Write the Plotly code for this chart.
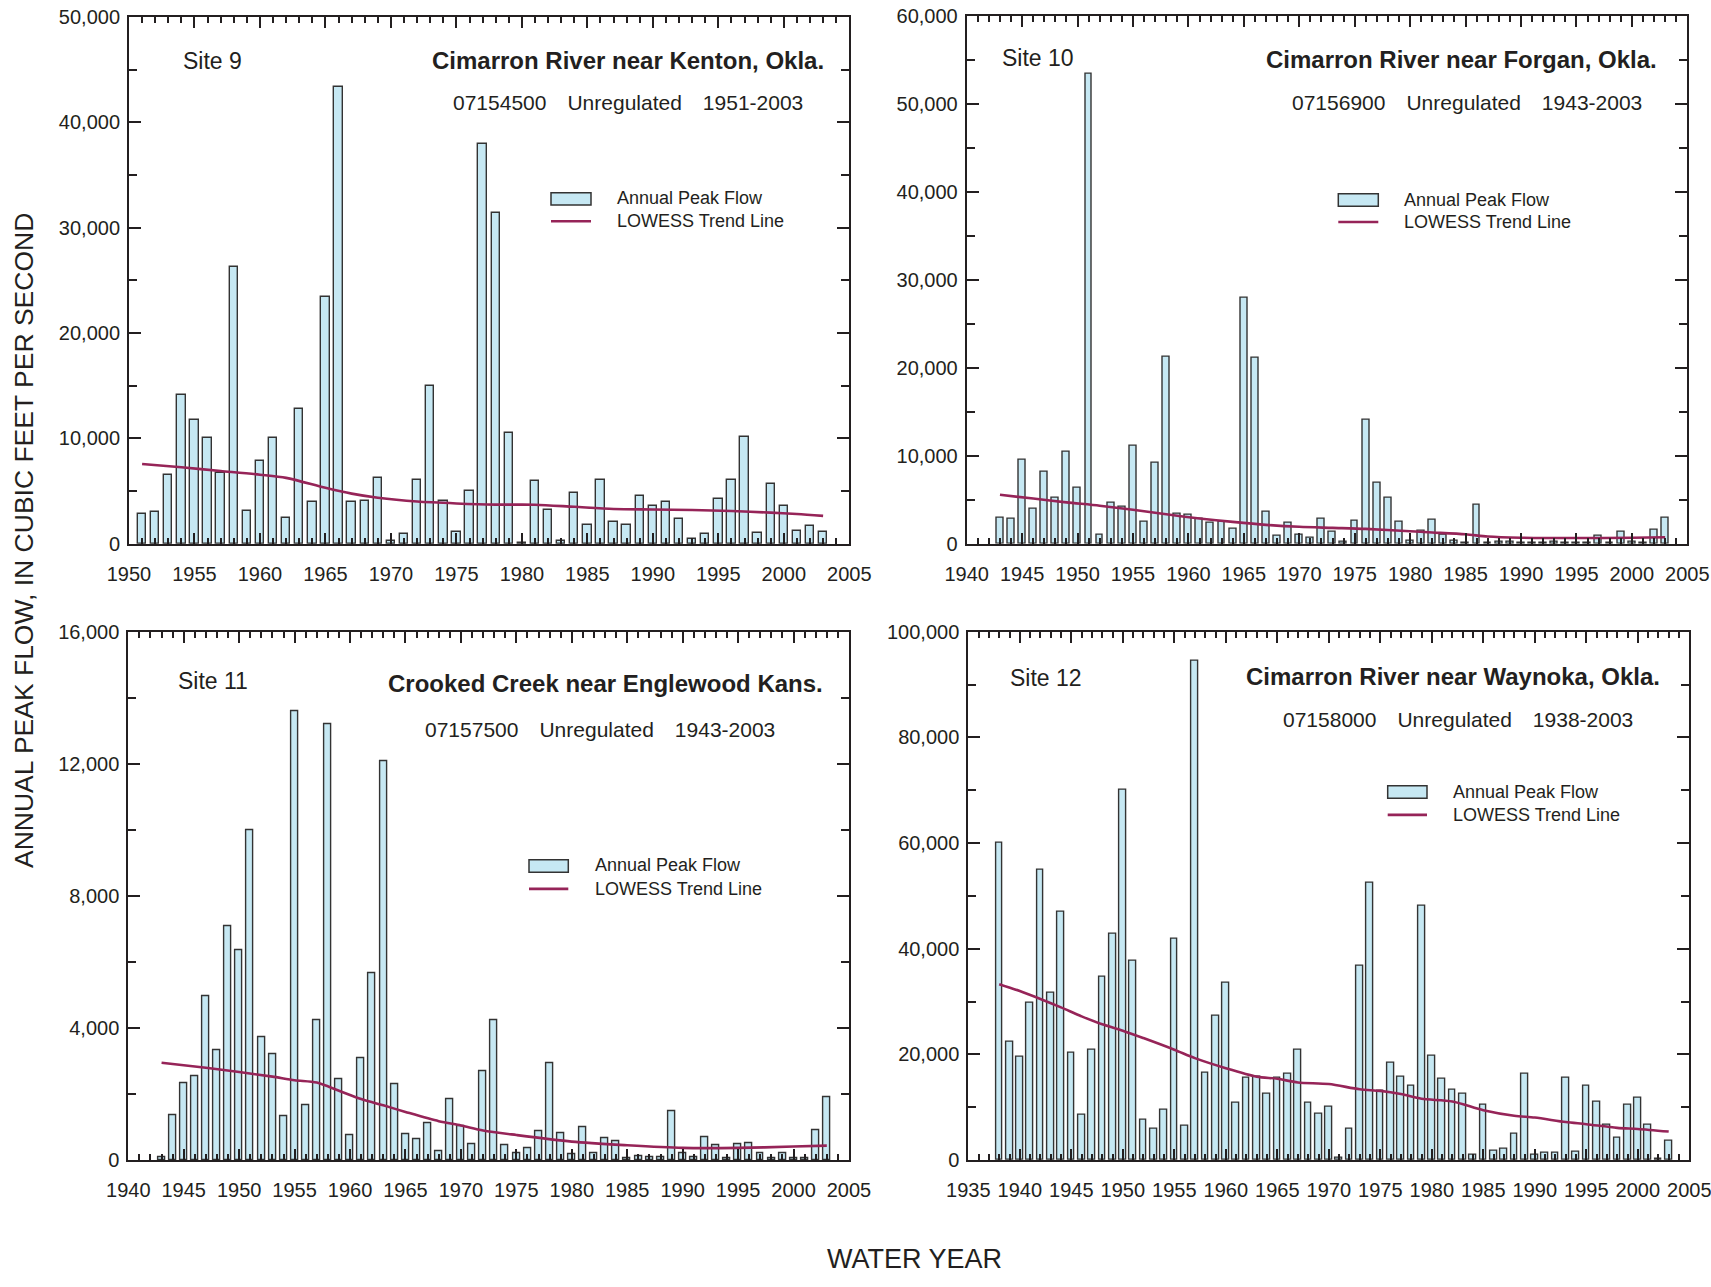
import plotly.graph_objects as go

W, H = 1711, 1287

# ---------------- Site 9: Cimarron River near Kenton, Okla. ----------------
years9 = list(range(1951, 2004))
peak9 = [2800, 3050, 6500, 14100, 11750, 10000, 6750, 26300, 3100, 7900,
         10000, 2450, 12750, 3950, 23400, 43400, 4000, 4050, 6200, 300,
         900, 6100, 15000, 4100, 1100, 5000, 37900, 31400, 10500, 100,
         5950, 3200, 300, 4850, 1800, 6050, 2050, 1800, 4550, 3550,
         3950, 2400, 450, 950, 4250, 6050, 10100, 1050, 5650, 3550,
         1250, 1650, 1100]
trend9_years = [1951, 1954, 1957, 1960, 1962, 1965, 1967, 1969, 1972, 1975,
                1978, 1981, 1984, 1987, 1990, 1993, 1996, 1999, 2001, 2003]
trend9 = [7570, 7250, 6900, 6550, 6250, 5300, 4750, 4360, 4000, 3820,
          3710, 3700, 3500, 3300, 3250, 3200, 3100, 2950, 2820, 2640]

# ---------------- Site 10: Cimarron River near Forgan, Okla. ----------------
years10 = list(range(1943, 2004))
peak10 = [2950, 2870, 9550, 4000, 8150, 5250, 10450, 6300, 53400, 1050,
          4600, 4250, 11150, 2450, 9250, 21250, 3350, 3250, 2800, 2350,
          2450, 1650, 28000, 21150, 3600, 950, 2350, 1050, 650, 2800,
          1300, 250, 2550, 14100, 6950, 5200, 2450, 300, 1500, 2700,
          1050, 300, 150, 4400, 150, 200, 250, 100, 100, 150,
          250, 100, 100, 150, 950, 150, 1300, 250, 150, 1550,
          2900]
trend10_years = [1943, 1946, 1949, 1952, 1955, 1958, 1961, 1964, 1967, 1970,
                 1973, 1976, 1980, 1982, 1985, 1987, 1990, 1995, 2000, 2003]
trend10 = [5560, 5130, 4700, 4320, 3850, 3340, 2870, 2480, 2140, 1920,
           1800, 1680, 1410, 1280, 1070, 810, 680, 640, 680, 730]

# ---------------- Site 11: Crooked Creek near Englewood Kans. ----------------
years11 = list(range(1943, 2004))
peak11 = [100, 1370, 2320, 2530, 4960, 3330, 7100, 6370, 10000, 3740,
          3220, 1320, 13600, 1650, 4240, 13200, 2440, 760, 3100, 5680,
          12100, 2290, 770, 630, 1130, 260, 1850, 1030, 490, 2680,
          4240, 450, 200, 360, 870, 2940, 830, 170, 1000, 200,
          650, 570, 50, 130, 100, 100, 1490, 200, 80, 700,
          450, 60, 470, 500, 200, 60, 200, 60, 60, 900,
          1900]
trend11_years = [1943, 1947, 1950, 1953, 1955, 1957, 1959, 1961, 1963, 1965,
                 1968, 1970, 1972, 1975, 1980, 1985, 1990, 1995, 2000, 2003]
trend11 = [2950, 2800, 2670, 2530, 2420, 2350, 2100, 1850, 1660, 1460,
           1180, 1050, 900, 760, 560, 450, 370, 370, 410, 440]

# ---------------- Site 12: Cimarron River near Waynoka, Okla. ----------------
years12 = list(range(1938, 2004))
peak12 = [60000, 22300, 19500, 29700, 55000, 31700, 47000, 20400, 8600, 20800,
          34700, 42900, 70000, 37800, 7600, 6000, 9600, 41900, 6400, 94500,
          16500, 27300, 33500, 10800, 15500, 15700, 12500, 15500, 16400, 20900,
          10900, 8800, 10000, 500, 6000, 36800, 52500, 13100, 18500, 15700,
          14000, 48200, 19800, 15300, 13300, 12500, 1000, 10400, 1700, 2100,
          4900, 16400, 1000, 1300, 1300, 15500, 1600, 14100, 11100, 6650,
          4300, 10400, 11800, 6650, 300, 3600]
trend12_years = [1938, 1940, 1942, 1944, 1946, 1948, 1950, 1952, 1955, 1957,
                 1960, 1963, 1965, 1967, 1970, 1973, 1975, 1977, 1979, 1982,
                 1985, 1988, 1990, 1993, 1995, 1998, 2000, 2003]
trend12 = [33300, 32000, 30500, 28900, 27200, 25700, 24500, 23100, 20900, 19300,
           17400, 15800, 15400, 14700, 14400, 13400, 13100, 12500, 11600, 11100,
           9450, 8400, 8050, 7200, 6800, 6100, 5900, 5400]

# Panel labels
site_labels = ["Site 9", "Site 10", "Site 11", "Site 12"]
station_names = ["Cimarron River near Kenton, Okla.",
                 "Cimarron River near Forgan, Okla.",
                 "Crooked Creek near Englewood Kans.",
                 "Cimarron River near Waynoka, Okla."]
station_ids = ["07154500", "07156900", "07157500", "07158000"]
periods = ["1951-2003", "1943-2003", "1943-2003", "1938-2003"]
x_ranges = [(1950, 2005), (1940, 2005), (1940, 2005), (1935, 2005)]
y_ranges = [(0, 50000), (0, 60000), (0, 16000), (0, 100000)]
y_major = [10000, 10000, 4000, 20000]
legend_bar_label = "Annual Peak Flow"
legend_line_label = "LOWESS Trend Line"
y_title = "ANNUAL PEAK FLOW, IN CUBIC FEET PER SECOND"
x_title = "WATER YEAR"

BAR_FILL = "#c6e8f3"
BAR_EDGE = "#333333"
TREND = "#962458"
INK = "#231f20"
FONT = "Liberation Sans, Arial, sans-serif"


def fx(p):
    return p / W


def fy(p):
    return 1 - p / H


# plot boxes in pixels: left, right, top, bottom
boxes = [(129, 849.3, 16.9, 543.7),
         (966.7, 1687.3, 15.8, 543.7),
         (128.3, 849.0, 632.2, 1160.1),
         (968.3, 1689.3, 631.8, 1160.1)]

# text placement in pixels per panel
site_pos = [(180.5, 61.3), (999.5, 58.3), (175.5, 681.0), (1008.0, 678.0)]
title_pos = [(826.0, 60.2), (1659.0, 59.5), (825.3, 683.6), (1662.3, 676.2)]
sub_pos = [(805.0, 102.3), (1644.0, 102.3), (776.5, 729.9), (1635.0, 719.1)]
# legend: rect x0, x1, y0, y1, line y, text x, text y1, text y2
leg_pos = [(551.0, 591.0, 192.7, 205.1, 221.3, 615.0, 198.3, 221.3),
           (1338.3, 1378.3, 193.8, 206.2, 222.0, 1401.7, 199.8, 222.0),
           (529.0, 568.3, 859.7, 872.3, 888.9, 593.0, 865.2, 888.9),
           (1387.7, 1427.0, 785.7, 798.3, 814.9, 1450.7, 792.0, 814.9)]

series = [(years9, peak9, trend9_years, trend9),
          (years10, peak10, trend10_years, trend10),
          (years11, peak11, trend11_years, trend11),
          (years12, peak12, trend12_years, trend12)]
bar_widths = [0.64, 0.62, 0.63, 0.65]

fig = go.Figure()
layout = dict(
    width=W, height=H, autosize=False,
    margin=dict(l=0, r=0, t=0, b=0, pad=0, autoexpand=False),
    paper_bgcolor="white", plot_bgcolor="white",
    showlegend=False,
    font=dict(family=FONT, color=INK),
)
shapes = []
annotations = []

for i, (yrs, peaks, tyrs, tvals) in enumerate(series):
    n = i + 1
    xa = "x" if n == 1 else f"x{n}"
    ya = "y" if n == 1 else f"y{n}"
    fig.add_trace(go.Bar(
        x=yrs, y=peaks, width=bar_widths[i], xaxis=xa, yaxis=ya,
        marker=dict(color=BAR_FILL, line=dict(color=BAR_EDGE, width=1.4)),
        name=legend_bar_label,
    ))
    fig.add_trace(go.Scatter(
        x=tyrs, y=tvals, mode="lines", xaxis=xa, yaxis=ya,
        line=dict(color=TREND, width=2.6, shape="spline", smoothing=0.8),
        name=legend_line_label,
    ))

    l, r, t, b = boxes[i]
    xkey = "xaxis" if n == 1 else f"xaxis{n}"
    ykey = "yaxis" if n == 1 else f"yaxis{n}"
    layout[xkey] = dict(
        domain=[fx(l), fx(r)], anchor=ya, range=list(x_ranges[i]),
        automargin=False, ticklabeloverflow="allow",
        tick0=x_ranges[i][0], dtick=5, ticks="inside", ticklen=11, tickwidth=2,
        tickcolor=INK, showline=True, linecolor=INK, linewidth=2,
        mirror="allticks", showgrid=False, zeroline=False,
        tickfont=dict(size=20, color=INK, family=FONT),
        ticklabelstandoff=11,
        minor=dict(dtick=1, ticks="inside", ticklen=6, tickwidth=2,
                   tickcolor=INK, showgrid=False),
    )
    layout[ykey] = dict(
        domain=[fy(b), fy(t)], anchor=xa, range=list(y_ranges[i]),
        automargin=False, ticklabeloverflow="allow",
        tick0=0, dtick=y_major[i], ticks="inside", ticklen=12, tickwidth=2,
        tickcolor=INK, showline=True, linecolor=INK, linewidth=2,
        mirror="allticks", showgrid=False, zeroline=False,
        tickformat=",d", separatethousands=True,
        tickfont=dict(size=20, color=INK, family=FONT),
        ticklabelstandoff=3,
        minor=dict(dtick=y_major[i] / 2, ticks="inside", ticklen=8, tickwidth=2,
                   tickcolor=INK, showgrid=False),
    )

    sx, sy = site_pos[i]
    annotations.append(dict(
        text=site_labels[i], x=fx(sx), y=fy(sy), xref="paper", yref="paper",
        xanchor="left", yanchor="middle", showarrow=False,
        font=dict(size=23, color=INK, family=FONT)))
    tx, ty = title_pos[i]
    annotations.append(dict(
        text=f"<b>{station_names[i]}</b>", x=fx(tx), y=fy(ty),
        xref="paper", yref="paper", xanchor="right", yanchor="middle",
        showarrow=False, font=dict(size=24, color=INK, family=FONT)))
    ux, uy = sub_pos[i]
    gap = "\u2002\u2002"
    annotations.append(dict(
        text=f"{station_ids[i]}{gap}Unregulated{gap}{periods[i]}",
        x=fx(ux), y=fy(uy), xref="paper", yref="paper",
        xanchor="right", yanchor="middle", showarrow=False,
        font=dict(size=21, color=INK, family=FONT)))

    rx0, rx1, ry0, ry1, ly, tx0, ty1, ty2 = leg_pos[i]
    shapes.append(dict(type="rect", xref="paper", yref="paper",
                       x0=fx(rx0), x1=fx(rx1), y0=fy(ry1), y1=fy(ry0),
                       fillcolor=BAR_FILL, line=dict(color=BAR_EDGE, width=1.5)))
    shapes.append(dict(type="line", xref="paper", yref="paper",
                       x0=fx(rx0), x1=fx(rx1), y0=fy(ly), y1=fy(ly),
                       line=dict(color=TREND, width=2.6)))
    annotations.append(dict(
        text=legend_bar_label, x=fx(tx0), y=fy(ty1), xref="paper", yref="paper",
        xanchor="left", yanchor="middle", showarrow=False,
        font=dict(size=18, color=INK, family=FONT)))
    annotations.append(dict(
        text=legend_line_label, x=fx(tx0), y=fy(ty2), xref="paper", yref="paper",
        xanchor="left", yanchor="middle", showarrow=False,
        font=dict(size=18, color=INK, family=FONT)))

annotations.append(dict(
    text=y_title, x=fx(24), y=fy(541), xref="paper", yref="paper",
    xanchor="center", yanchor="middle", textangle=-90, showarrow=False,
    font=dict(size=26.5, color=INK, family=FONT)))
annotations.append(dict(
    text=x_title, x=fx(914), y=fy(1259), xref="paper", yref="paper",
    xanchor="center", yanchor="middle", showarrow=False,
    font=dict(size=27, color=INK, family=FONT)))

layout["shapes"] = shapes
layout["annotations"] = annotations
layout["bargap"] = 0
fig.update_layout(**layout)

fig.write_html("out.html")
